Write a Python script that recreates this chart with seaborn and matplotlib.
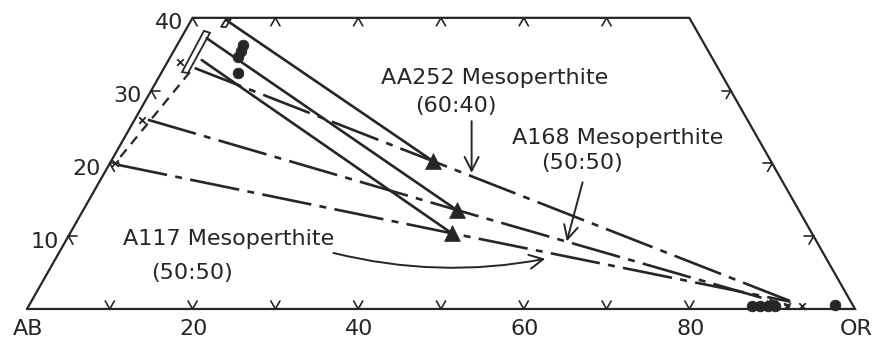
import numpy as np
import matplotlib
matplotlib.use("Agg")
import matplotlib.pyplot as plt
import seaborn as sns
from matplotlib.patches import Polygon

# ---------------- data (Or %, An %) ----------------
samples = ["AA252", "A168", "A117"]
ratios = ["(60:40)", "(50:50)", "(50:50)"]
bulk_or = [38.9, 45.1, 46.1]
bulk_an = [20.3, 13.6, 10.4]
plag_end_or = [3.7, 1.6, 1.1]
plag_end_an = [33.1, 26.0, 19.8]
kfs_end_or = [91.6, 92.0, 91.7]
kfs_end_an = [1.1, 0.4, 1.0]
solid_start_or = [4.2, 3.1, 4.0]
solid_start_an = [39.7, 37.2, 34.2]

plag_dot_or = [7.9, 8.1, 8.2, 9.3]
plag_dot_an = [36.3, 35.4, 34.6, 32.4]
kfs_dot_or = [87.4, 88.3, 89.3, 90.1, 97.3]
kfs_dot_an = [0.4, 0.4, 0.4, 0.4, 0.55]
cross_or = [1.5, 0.9, 0.6, 91.6, 93.4]
cross_an = [33.9, 26.0, 20.05, 0.4, 0.4]

box_or = [2.45, 3.23, 3.13, 2.27]
box_an = [32.55, 32.42, 37.94, 38.21]
cap_or = [4.06, 4.66, 4.72, 4.11]
cap_an = [38.74, 38.74, 39.84, 39.84]
edge_dash_or = [3.4, 0.75]
edge_dash_an = [32.55, 20.5]

frame_or = [0, 100, 60, 0, 0]
frame_an = [0, 0, 40, 40, 0]

bottom_ticks = [10, 20, 30, 40, 50, 60, 70, 80, 90]
bottom_labels = ["AB", "20", "40", "60", "80", "OR"]
bottom_label_pos = [0, 20, 40, 60, 80, 100]
left_ticks = [10, 20, 30, 40]
left_labels = ["10", "20", "30", "40"]
top_ticks = [10, 20, 30, 40, 50]
right_ticks = [10, 20, 30]

INK = "#262626"


def tern(or_, an):
    or_ = np.asarray(or_, float)
    an = np.asarray(an, float)
    return or_ + an / 2.0, an


sns.set_theme(style="white")
plt.rcParams["font.family"] = ["DejaVu Sans"]
plt.rcParams["lines.scale_dashes"] = False

fig = plt.figure(figsize=(8.77, 3.41), dpi=100)
ax = fig.add_axes([0, 0, 1, 1])
ax.set_xlim(-3.26, 102.66)
ax.set_ylim(-4.40, 42.45)
ax.axis("off")

# frame
fx, fy = tern(frame_or, frame_an)
ax.plot(fx, fy, color=INK, lw=1.6, solid_joinstyle="miter")

# ticks along edges (short arms along ternary grid directions)
d = 1.1
segs = []
for t in bottom_ticks:
    segs += [((t, 0), (t, d)), ((t, 0), (t - d, d))]
for a in left_ticks:
    segs += [((0, a), (d, a)), ((0, a), (d, a - d))]
for o in top_ticks:
    segs += [((o, 40), (o, 40 - d)), ((o, 40), (o + d, 40 - d))]
for a in right_ticks:
    segs += [((100 - a, a), (100 - a - d, a)), ((100 - a, a), (100 - a, a - d))]
for (o1, a1), (o2, a2) in segs:
    sx, sy = tern([o1, o2], [a1, a2])
    ax.plot(sx, sy, color=INK, lw=1.2)

# tie lines plag -> bulk -> kfs (dash-dot)
for i in range(3):
    lx, ly = tern([plag_end_or[i], bulk_or[i], kfs_end_or[i]],
                  [plag_end_an[i], bulk_an[i], kfs_end_an[i]])
    sns.lineplot(x=lx, y=ly, sort=False, estimator=None, ax=ax, color=INK,
                 lw=1.9, linestyle=(0, (36, 6, 5, 6)), legend=False)
    # solid lines from An-rich plagioclase to bulk
    sx, sy = tern([solid_start_or[i], bulk_or[i]], [solid_start_an[i], bulk_an[i]])
    sns.lineplot(x=sx, y=sy, sort=False, estimator=None, ax=ax, color=INK,
                 lw=1.9, legend=False)

# dashed line near Ab-An edge
ex, ey = tern(edge_dash_or, edge_dash_an)
ax.plot(ex, ey, color=INK, lw=1.6, linestyle=(0, (7, 5)))

# open box and cap
bx, by = tern(box_or, box_an)
ax.add_patch(Polygon(np.column_stack([bx, by]), closed=True, fill=False,
                     edgecolor=INK, lw=1.3))
cx, cy = tern(cap_or, cap_an)
ax.add_patch(Polygon(np.column_stack([cx, cy]), closed=True, fill=False,
                     edgecolor=INK, lw=1.3))

# markers
px, py = tern(plag_dot_or, plag_dot_an)
sns.scatterplot(x=px, y=py, ax=ax, marker="o", s=60, color=INK,
                edgecolor=INK, linewidth=0.5, legend=False, zorder=5)
kx, ky = tern(kfs_dot_or, kfs_dot_an)
sns.scatterplot(x=kx, y=ky, ax=ax, marker="o", s=60, color=INK,
                edgecolor=INK, linewidth=0.5, legend=False, zorder=5)
xx, xy = tern(cross_or, cross_an)
sns.scatterplot(x=xx, y=xy, ax=ax, marker="x", s=22, color=INK,
                linewidth=1.3, legend=False, zorder=5)
tx, ty = tern(bulk_or, bulk_an)
sns.scatterplot(x=tx, y=ty, ax=ax, marker="^", s=130, color=INK,
                edgecolor=INK, linewidth=0.5, legend=False, zorder=6)

# tick labels
fs = 16
for lab, a in zip(left_labels, left_ticks):
    lx, ly = tern([0], [a])
    ax.annotate(lab, (lx[0], ly[0]), xytext=(-17, -4), textcoords="offset points",
                ha="center", va="center", fontsize=fs, color=INK)
for lab, o in zip(bottom_labels, bottom_label_pos):
    ax.annotate(lab, (o, 0), xytext=(1, -14.5), textcoords="offset points",
                ha="center", va="center", fontsize=fs, color=INK)

# sample labels and arrows (positions in plot coordinates)
label_xy = [(56.5, 31.7), (71.3, 23.5), (24.3, 9.6)]
ratio_xy = [(51.8, 27.9), (67.0, 20.05), (19.9, 4.9)]
arrow_from = [(53.7, 25.8), (67.1, 17.4), (37.0, 7.7)]
arrow_to = [(53.7, 18.7), (65.2, 9.3), (62.6, 6.9)]
arrow_rad = [0.0, 0.0, 0.11]
for i in range(3):
    ax.text(*label_xy[i], f"{samples[i]} Mesoperthite", ha="center", va="center",
            fontsize=fs, color=INK)
    ax.text(*ratio_xy[i], ratios[i], ha="center", va="center", fontsize=fs, color=INK)
    ax.annotate("", xy=arrow_to[i], xytext=arrow_from[i],
                arrowprops=dict(arrowstyle="->,head_length=0.55,head_width=0.28",
                                lw=1.4, color=INK, shrinkA=0, shrinkB=0,
                                mutation_scale=18,
                                connectionstyle=f"arc3,rad={arrow_rad[i]}"))

fig.savefig("out.png", dpi=100, facecolor="white")
